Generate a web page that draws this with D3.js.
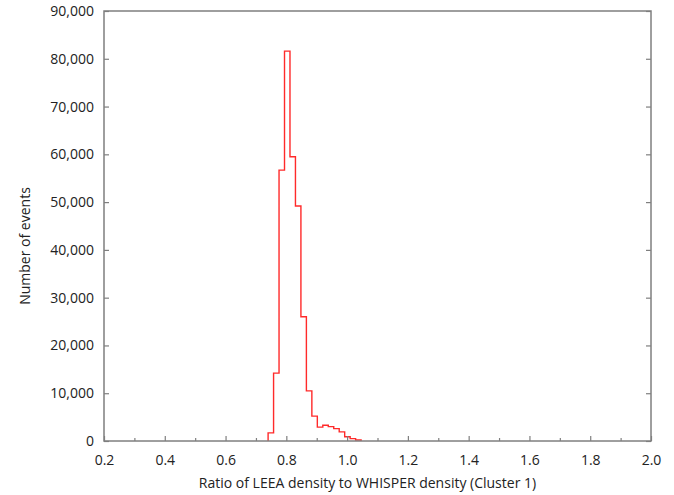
<!DOCTYPE html>
<html>
<head>
<meta charset="utf-8">
<script src="https://cdn.jsdelivr.net/npm/d3@7"></script>
<style>
  body { margin: 0; background: #fff; }
  svg text { font-family: "Open Sans", "Noto Sans", sans-serif; fill: #222; }
</style>
</head>
<body>
<svg id="chart"></svg>
<script>
// Histogram bins (lower edges), width 0.018, and counts
const binStarts = [0.740, 0.758, 0.776, 0.794, 0.812, 0.830, 0.848, 0.866, 0.884,
                   0.902, 0.920, 0.938, 0.956, 0.974, 0.992, 1.010, 1.028];
const binEnd = 1.046;
const counts = [1700, 14200, 56700, 81600, 59500, 49200, 26000, 10500, 5200,
                2900, 3300, 3000, 2600, 1900, 900, 500, 200];

const xTicks = [0.2, 0.4, 0.6, 0.8, 1.0, 1.2, 1.4, 1.6, 1.8, 2.0];
const xMinorTicks = [0.3, 0.5, 0.7, 0.9, 1.1, 1.3, 1.5, 1.7, 1.9];
const yTicks = [0, 10000, 20000, 30000, 40000, 50000, 60000, 70000, 80000, 90000];

const width = 674, height = 495;
const margin = { top: 11, right: 23, bottom: 54, left: 104 };
const innerWidth = width - margin.left - margin.right;
const innerHeight = height - margin.top - margin.bottom;

const svg = d3.select('#chart').attr('width', width).attr('height', height);
const g = svg.append('g').attr('transform', `translate(${ margin.left },${ margin.top })`);

const x = d3.scaleLinear().domain([0.2, 2.0]).range([0, innerWidth]);
const y = d3.scaleLinear().domain([0, 90000]).range([innerHeight, 0]);

const axisColor = '#7f7f7f';

// Step outline of the histogram
const pts = [[binStarts[0], 0]];
binStarts.forEach((b, i) => {
    const next = i + 1 < binStarts.length ? binStarts[i + 1] : binEnd;
    pts.push([b, counts[i]]);
    pts.push([next, counts[i]]);
});
pts.push([binEnd, 0]);

g.append('path')
    .datum(pts)
    .attr('fill', 'none')
    .attr('stroke', '#ff2a2a')
    .attr('stroke-width', 1.4)
    .attr('d', d3.line().x(d => x(d[0])).y(d => y(d[1])));

// Axes with inward ticks
const xAxis = g.append('g')
    .attr('transform', `translate(0,${ innerHeight })`)
    .call(d3.axisBottom(x).tickValues(xTicks).tickFormat(d3.format('.1f'))
        .tickSizeInner(-5).tickSizeOuter(0).tickPadding(14));
const xMinor = g.append('g')
    .attr('transform', `translate(0,${ innerHeight })`)
    .call(d3.axisBottom(x).tickValues(xMinorTicks).tickFormat('')
        .tickSizeInner(-3).tickSizeOuter(0));
const yAxis = g.append('g')
    .call(d3.axisLeft(y).tickValues(yTicks).tickFormat(d3.format(','))
        .tickSizeInner(-5).tickSizeOuter(0).tickPadding(10));
const yRight = g.append('g')
    .attr('transform', `translate(${ innerWidth },0)`)
    .call(d3.axisRight(y).tickValues(yTicks).tickFormat('')
        .tickSizeInner(-5).tickSizeOuter(0));

[xAxis, xMinor, yAxis, yRight].forEach(a => {
    a.select('.domain').remove();
    a.selectAll('line').attr('stroke', axisColor).attr('stroke-width', 1.2);
    a.selectAll('text').attr('font-size', 14).attr('fill', '#222');
});

// Frame
g.append('rect')
    .attr('x', 0).attr('y', 0)
    .attr('width', innerWidth).attr('height', innerHeight)
    .attr('fill', 'none')
    .attr('stroke', axisColor)
    .attr('stroke-width', 1.5);

// Axis titles
svg.append('text')
    .attr('x', margin.left + innerWidth / 2 - 10)
    .attr('y', 488)
    .attr('text-anchor', 'middle')
    .attr('font-size', 14)
    .text('Ratio of LEEA density to WHISPER density (Cluster 1)');

svg.append('text')
    .attr('transform', `translate(30,${ margin.top + innerHeight / 2 + 20 }) rotate(-90)`)
    .attr('text-anchor', 'middle')
    .attr('font-size', 14)
    .text('Number of events');
</script>
</body>
</html>
